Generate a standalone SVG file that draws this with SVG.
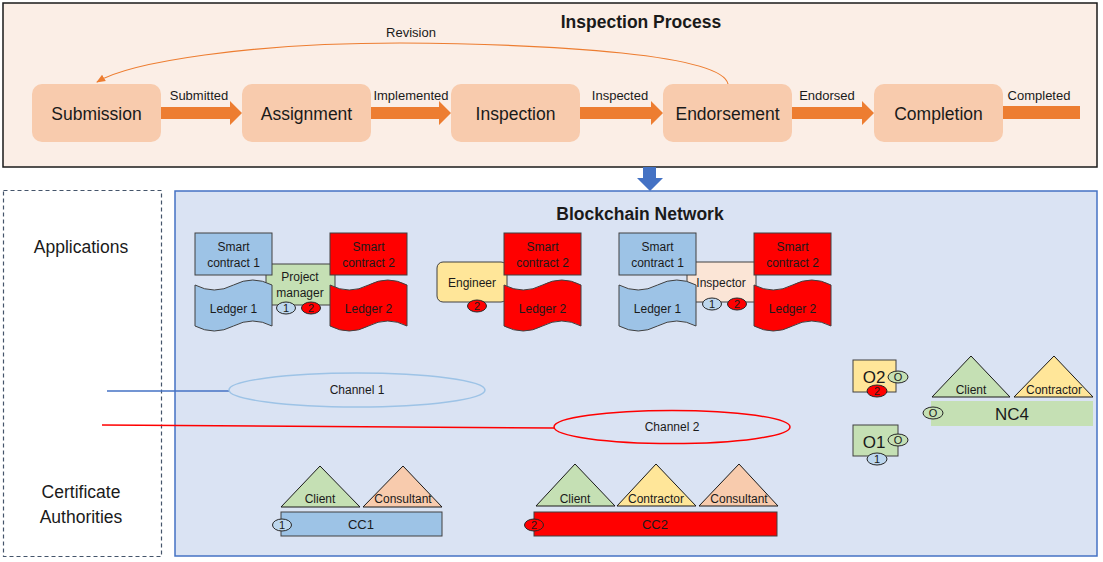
<svg xmlns="http://www.w3.org/2000/svg" width="1103" height="562" viewBox="0 0 1103 562">
<defs>
<style>
text{font-family:"Liberation Sans",Arial,Helvetica,sans-serif;fill:#1a1a1a;text-anchor:middle}
.proc{fill:#F8CBAD}
.ptxt{font-size:17.5px}
.lbl{font-size:13px}
.title{font-size:17.5px;font-weight:bold}
.flow{fill:#ED7D31}
.sc{stroke:#404040;stroke-width:1}
.blue{fill:#9DC3E6}
.lblue{fill:#BDD7EE}
.red{fill:#FF0000}
.green{fill:#C5E0B4}
.yellow{fill:#FFE699}
.peach{fill:#F8CBAD}
.lpeach{fill:#FBE5D6}
.s12{font-size:12px}
.s17{font-size:17px}
.side{font-size:17.5px}
.tri{stroke:#1a1a1a;stroke-width:1}
.badge{stroke:#262626;stroke-width:1}
.bt{font-size:11px}
</style>
<path id="tape" d="M0,5 Q19.25,15 38.5,5 Q57.75,-5 77,5 L77,46 Q57.75,36 38.5,46 Q19.25,56 0,46 Z"/>
<marker id="ah" viewBox="0 0 10 10" refX="9" refY="5" markerWidth="9" markerHeight="9" orient="auto" markerUnits="userSpaceOnUse">
<path d="M0,1 L10,5 L0,9 Z" fill="#ED7D31"/>
</marker>
</defs>
<rect x="0" y="0" width="1103" height="562" fill="#ffffff"/>

<g id="inspection-process">
<rect x="3" y="3" width="1094" height="164" fill="#FBEEE6" stroke="#1a1a1a" stroke-width="1.5"/>
<text class="title" x="641" y="28">Inspection Process</text>
</g>

<g id="submission"><rect class="proc" x="32" y="84" width="129" height="58" rx="10"/><text class="ptxt" x="96.5" y="120">Submission</text></g>
<g id="assignment"><rect class="proc" x="242" y="84" width="129" height="58" rx="10"/><text class="ptxt" x="306.5" y="120">Assignment</text></g>
<g id="inspection"><rect class="proc" x="451" y="84" width="129" height="58" rx="10"/><text class="ptxt" x="515.5" y="120">Inspection</text></g>
<g id="endorsement"><rect class="proc" x="663" y="84" width="129" height="58" rx="10"/><text class="ptxt" x="727.5" y="120">Endorsement</text></g>
<g id="completion"><rect class="proc" x="874" y="84" width="129" height="58" rx="10"/><text class="ptxt" x="938.5" y="120">Completion</text></g>

<g id="blockchain-network">
<rect x="3.5" y="190.5" width="158" height="366" fill="#ffffff" stroke="#44546A" stroke-width="1.2" stroke-dasharray="4 3"/>
<text class="side" x="81" y="253">Applications</text>
<text class="side" x="81" y="498">Certificate</text>
<text class="side" x="81" y="523">Authorities</text>
<rect x="175" y="191" width="922" height="365" fill="#DAE3F3" stroke="#4472C4" stroke-width="1.5"/>
<text class="title" x="640" y="220">Blockchain Network</text>
</g>

<g id="connectors">
<polygon class="flow" points="161,107 230,107 230,101 242,113 230,125 230,119 161,119"/>
<polygon class="flow" points="371,107 439,107 439,101 451,113 439,125 439,119 371,119"/>
<polygon class="flow" points="580,107 651,107 651,101 663,113 651,125 651,119 580,119"/>
<polygon class="flow" points="792,107 862,107 862,101 874,113 862,125 862,119 792,119"/>
<rect class="flow" x="1003" y="106" width="77" height="13"/>
<text class="lbl" x="199" y="100">Submitted</text>
<text class="lbl" x="411" y="100">Implemented</text>
<text class="lbl" x="620" y="100">Inspected</text>
<text class="lbl" x="827" y="100">Endorsed</text>
<text class="lbl" x="1039" y="100">Completed</text>
<path d="M728,84 C722,55 560,44 400,43 C250,43 130,62 97,82" fill="none" stroke="#ED7D31" stroke-width="1.2" marker-end="url(#ah)"/>
<text class="lbl" x="411" y="37">Revision</text>
<polygon points="643,167 656,167 656,178 663,178 650,191 637,178 643,178" fill="#4472C4"/>
<line x1="107" y1="391" x2="229" y2="391" stroke="#4472C4" stroke-width="1.3"/>
<line x1="102" y1="425" x2="554" y2="428" stroke="#FF0000" stroke-width="1.5"/>
</g>

<g id="channel1">
<ellipse cx="357" cy="390" rx="128" ry="17" fill="none" stroke="#9DC3E6" stroke-width="1.5"/>
<text class="s12" x="357" y="394">Channel 1</text>
</g>
<g id="channel2">
<ellipse cx="672" cy="427" rx="118" ry="16.5" fill="none" stroke="#FF0000" stroke-width="1.5"/>
<text class="s12" x="672" y="431">Channel 2</text>
</g>

<g id="project-manager-peer">
<rect class="green sc" x="266" y="264" width="69" height="41"/>
<text class="s12" x="300" y="281">Project</text>
<text class="s12" x="300" y="297">manager</text>
<rect class="blue sc" x="195" y="233" width="77" height="42"/>
<text class="s12" x="233.5" y="251">Smart</text>
<text class="s12" x="233.5" y="267">contract 1</text>
<use href="#tape" x="195" y="280" class="blue sc"/>
<text class="s12" x="233.5" y="313">Ledger 1</text>
<rect class="red sc" x="330" y="233" width="77" height="42"/>
<text class="s12" x="368.5" y="251">Smart</text>
<text class="s12" x="368.5" y="267">contract 2</text>
<use href="#tape" x="330" y="280" class="red sc"/>
<text class="s12" x="368.5" y="313">Ledger 2</text>
<ellipse class="lblue badge" cx="286" cy="308" rx="9.5" ry="6"/><text class="bt" x="286" y="312">1</text>
<ellipse class="red badge" cx="311" cy="308" rx="9.5" ry="6"/><text class="bt" x="311" y="312">2</text>
</g>

<g id="engineer-peer">
<rect class="yellow sc" x="437" y="262" width="70" height="40" rx="6"/>
<text class="s12" x="472" y="287">Engineer</text>
<rect class="red sc" x="504" y="233" width="77" height="42"/>
<text class="s12" x="542.5" y="251">Smart</text>
<text class="s12" x="542.5" y="267">contract 2</text>
<use href="#tape" x="504" y="280" class="red sc"/>
<text class="s12" x="542.5" y="313">Ledger 2</text>
<ellipse class="red badge" cx="477" cy="306" rx="9.5" ry="6"/><text class="bt" x="477" y="310">2</text>
</g>

<g id="inspector-peer">
<rect class="lpeach sc" x="687" y="262" width="69" height="40"/>
<text class="s12" x="721" y="287">Inspector</text>
<rect class="blue sc" x="619" y="233" width="77" height="42"/>
<text class="s12" x="657.5" y="251">Smart</text>
<text class="s12" x="657.5" y="267">contract 1</text>
<use href="#tape" x="619" y="280" class="blue sc"/>
<text class="s12" x="657.5" y="313">Ledger 1</text>
<rect class="red sc" x="754" y="233" width="77" height="42"/>
<text class="s12" x="792.5" y="251">Smart</text>
<text class="s12" x="792.5" y="267">contract 2</text>
<use href="#tape" x="754" y="280" class="red sc"/>
<text class="s12" x="792.5" y="313">Ledger 2</text>
<ellipse class="lblue badge" cx="712" cy="304" rx="9.5" ry="6"/><text class="bt" x="712" y="308">1</text>
<ellipse class="red badge" cx="737" cy="304" rx="9.5" ry="6"/><text class="bt" x="737" y="308">2</text>
</g>

<g id="orderer-o2">
<rect class="yellow sc" x="853" y="360" width="43" height="32"/>
<text class="s17" x="874" y="383">O2</text>
<ellipse class="green badge" cx="898" cy="377" rx="10" ry="6"/><text class="bt" x="898" y="381">O</text>
<ellipse class="red badge" cx="877" cy="391" rx="10" ry="6"/><text class="bt" x="877" y="395">2</text>
</g>

<g id="orderer-o1">
<rect class="green sc" x="853" y="425" width="45" height="31"/>
<text class="s17" x="874" y="448">O1</text>
<ellipse class="green badge" cx="898" cy="440" rx="10" ry="6"/><text class="bt" x="898" y="444">O</text>
<ellipse class="lblue badge" cx="877" cy="459" rx="10" ry="6"/><text class="bt" x="877" y="463">1</text>
</g>

<g id="nc4">
<polygon class="green tri" points="932,397 971,356 1010,397"/>
<text class="s12" x="971" y="394">Client</text>
<polygon class="yellow tri" points="1014,397 1054,356 1093,397"/>
<text class="s12" x="1054" y="394">Contractor</text>
<rect class="green" x="931" y="401" width="162" height="25"/>
<text class="s17" x="1012" y="420">NC4</text>
<ellipse class="green badge" cx="933" cy="413" rx="10" ry="6"/><text class="bt" x="933" y="417">O</text>
</g>

<g id="cc1">
<polygon class="green tri" points="281,507 320,466 360,507"/>
<text class="s12" x="320" y="503">Client</text>
<polygon class="peach tri" points="363,507 403,466 442,507"/>
<text class="s12" x="403" y="503">Consultant</text>
<rect class="blue sc" x="281" y="512" width="161" height="24"/>
<text class="lbl" x="361" y="529">CC1</text>
<ellipse class="lblue badge" cx="282" cy="525" rx="9.5" ry="6"/><text class="bt" x="282" y="529">1</text>
</g>

<g id="cc2">
<polygon class="green tri" points="536,506 575,464 615,506"/>
<text class="s12" x="575" y="503">Client</text>
<polygon class="yellow tri" points="617,506 656,464 696,506"/>
<text class="s12" x="656" y="503">Contractor</text>
<polygon class="peach tri" points="699,506 739,464 778,506"/>
<text class="s12" x="739" y="503">Consultant</text>
<rect class="red sc" x="534" y="512" width="243" height="24"/>
<text class="lbl" x="655" y="529">CC2</text>
<ellipse class="red badge" cx="534" cy="525" rx="9.5" ry="6"/><text class="bt" x="534" y="529">2</text>
</g>
</svg>
